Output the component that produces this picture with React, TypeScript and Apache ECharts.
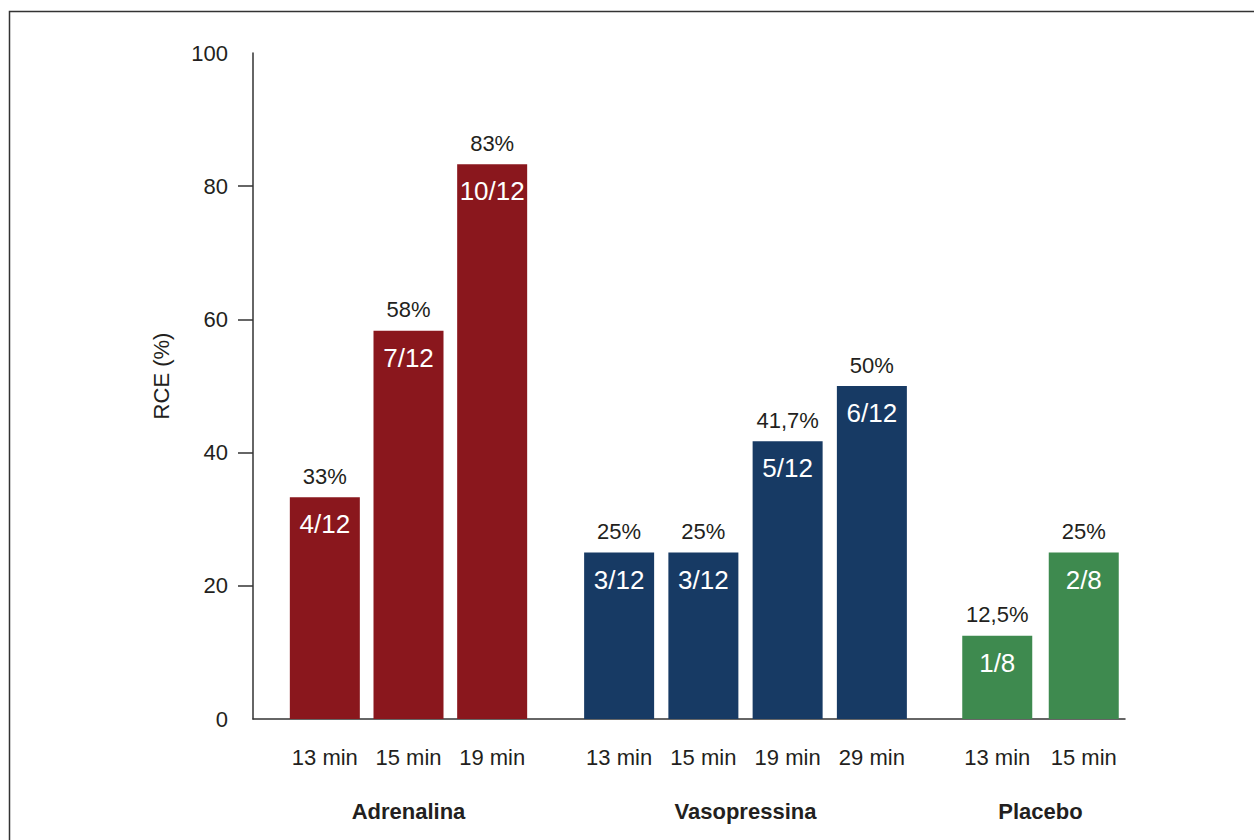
import React, { useEffect, useRef } from "react";
import * as echarts from "echarts";

const groups = ["Adrenalina", "Vasopressina", "Placebo"];
const adrCategories = ["13 min", "15 min", "19 min"];
const adrValues = [33.3, 58.3, 83.3];
const adrPercent = ["33%", "58%", "83%"];
const adrFraction = ["4/12", "7/12", "10/12"];

const vasCategories = ["13 min", "15 min", "19 min", "29 min"];
const vasValues = [25, 25, 41.7, 50];
const vasPercent = ["25%", "25%", "41,7%", "50%"];
const vasFraction = ["3/12", "3/12", "5/12", "6/12"];

const plaCategories = ["13 min", "15 min"];
const plaValues = [12.5, 25];
const plaPercent = ["12,5%", "25%"];
const plaFraction = ["1/8", "2/8"];

const yTicks = [0, 20, 40, 60, 80, 100];
const yTickMarks = [20, 40, 60, 80];
const yName = "RCE (%)";

const FONT = '"Liberation Sans Narrow", "Arial Narrow", "Liberation Sans", Arial, sans-serif';
const TEXT = "#231F20";
const AXIS = "#333333";
const colors = ["#8A171D", "#173A64", "#3E8A4F"];
const FS = 22;
const FS_IN = 26;

export default function App() {
  const ref = useRef<HTMLDivElement>(null);
  useEffect(() => {
    if (!ref.current) return;
    const chart = echarts.init(ref.current, null, { renderer: "svg" });
    const top = 53;
    const height = 666;
    const gridDefs = [
      { left: 253, width: 872 },
      { left: 283, width: 251 },
      { left: 577, width: 337 },
      { left: 954, width: 173 },
    ];
    const data = [
      { cats: adrCategories, vals: adrValues, pct: adrPercent, frac: adrFraction },
      { cats: vasCategories, vals: vasValues, pct: vasPercent, frac: vasFraction },
      { cats: plaCategories, vals: plaValues, pct: plaPercent, frac: plaFraction },
    ];
    const grid = gridDefs.map((g) => ({ left: g.left, width: g.width, top, height, containLabel: false }));
    const xAxis: any[] = [
      {
        type: "value",
        gridIndex: 0,
        min: 0,
        max: 1,
        axisLine: { show: true, lineStyle: { color: AXIS, width: 1.5 } },
        axisTick: { show: false },
        axisLabel: { show: false },
        splitLine: { show: false },
      },
    ];
    const yAxis: any[] = [
      {
        type: "value",
        gridIndex: 0,
        min: yTicks[0],
        max: yTicks[yTicks.length - 1],
        interval: 20,
        axisLine: { show: true, lineStyle: { color: AXIS, width: 1.5 } },
        axisTick: { show: true, length: 15, customValues: yTickMarks, lineStyle: { color: AXIS, width: 1.5 } },
        axisLabel: { show: true, margin: 25, fontSize: FS, color: TEXT, fontFamily: FONT, customValues: yTicks },
        splitLine: { show: false },
      },
    ];
    const series: any[] = [];
    data.forEach((d, i) => {
      const gi = i + 1;
      xAxis.push({
        type: "category",
        gridIndex: gi,
        data: d.cats,
        axisLine: { show: false },
        axisTick: { show: false },
        axisLabel: { interval: 0, margin: 27, fontSize: FS, color: TEXT, fontFamily: FONT },
        name: groups[i],
        nameLocation: "middle",
        nameGap: 81,
        nameTextStyle: { fontSize: FS, fontWeight: "bold", color: TEXT, fontFamily: FONT },
      });
      yAxis.push({ type: "value", gridIndex: gi, min: 0, max: 100, show: false });
      series.push({
        type: "bar",
        xAxisIndex: gi,
        yAxisIndex: gi,
        data: d.vals,
        barWidth: 70,
        barGap: "-100%",
        itemStyle: { color: colors[i] },
        label: {
          show: true,
          position: "insideTop",
          distance: 14,
          fontSize: FS_IN,
          color: "#ffffff",
          fontFamily: FONT,
          formatter: (p: any) => d.frac[p.dataIndex],
        },
      });
      series.push({
        type: "bar",
        xAxisIndex: gi,
        yAxisIndex: gi,
        data: d.vals,
        barWidth: 70,
        barGap: "-100%",
        itemStyle: { color: "rgba(0,0,0,0)" },
        label: {
          show: true,
          position: "top",
          distance: 10,
          fontSize: FS,
          color: TEXT,
          fontFamily: FONT,
          formatter: (p: any) => d.pct[p.dataIndex],
        },
      });
    });
    chart.setOption({
      animation: false,
      backgroundColor: "#ffffff",
      grid,
      xAxis,
      yAxis,
      series,
      graphic: [
        {
          type: "rect",
          shape: { x: 9.5, y: 11.5, width: 1400, height: 1000 },
          style: { fill: "none", stroke: AXIS, lineWidth: 1.5 },
          silent: true,
        },
        {
          type: "text",
          x: 161,
          y: 376,
          rotation: Math.PI / 2,
          style: {
            text: yName,
            fontSize: FS,
            fill: TEXT,
            fontFamily: FONT,
            align: "center",
            verticalAlign: "middle",
          },
        },
      ],
    });
    return () => chart.dispose();
  }, []);
  return (
    <div
      ref={ref}
      style={{ position: "absolute", left: 0, top: 0, width: 1254, height: 840 }}
    />
  );
}
